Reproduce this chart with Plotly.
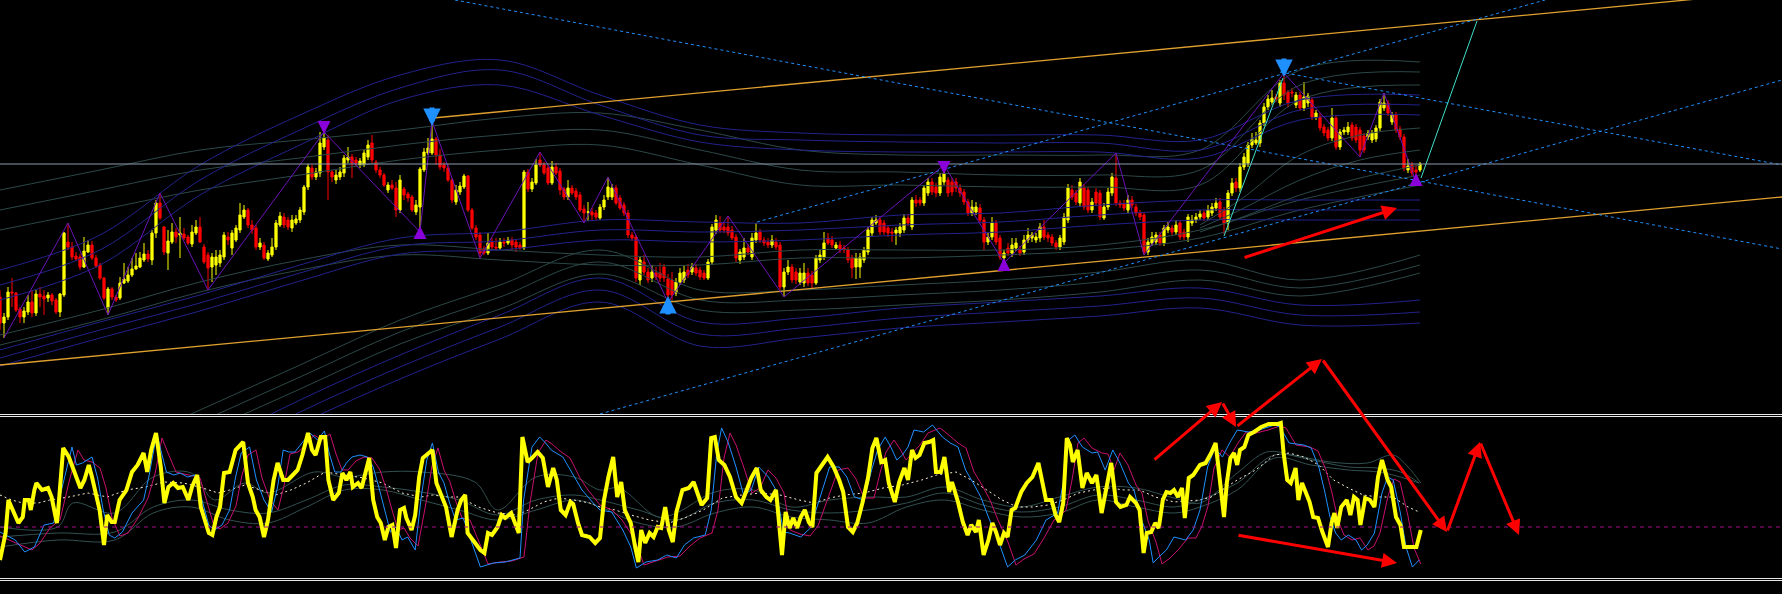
import plotly.graph_objects as go

# ---------------- price candles (price units) ----------------
opens = [203,177,183,208,207,191,183,188,198,187,206,204,202,205,200,188,205,258,253,244,
243,233,248,255,242,235,222,192,211,203,202,217,219,225,231,233,240,246,240,267,
297,273,247,258,268,265,266,263,256,267,273,253,245,233,235,237,243,263,252,260,
270,283,290,275,272,253,255,241,245,253,275,283,280,272,277,280,288,313,332,323,
327,353,360,328,320,323,327,340,343,340,335,335,343,357,338,330,325,310,315,312,
290,311,306,303,288,293,330,347,347,361,345,335,332,320,298,308,313,324,290,272,
265,251,247,258,253,252,258,257,260,258,255,252,328,311,317,340,335,332,317,333,
329,311,303,312,309,305,291,288,288,287,282,293,303,303,312,302,295,287,265,263,
220,238,228,222,227,227,233,221,220,207,218,220,230,228,232,230,227,222,238,270,
277,273,273,270,263,240,243,252,243,260,268,260,258,255,258,255,213,228,233,228,
218,217,227,225,217,240,243,262,260,252,255,252,250,242,233,233,240,248,267,277,
280,277,272,268,267,267,270,282,273,300,300,297,307,318,313,307,318,320,318,318,
312,308,298,287,288,292,280,258,263,277,262,242,252,247,252,250,248,260,262,260,
262,273,265,263,257,253,258,280,310,307,297,312,310,290,308,307,282,293,307,322,
297,296,290,300,293,287,285,248,257,258,265,257,270,272,268,277,268,263,277,280,
283,287,283,287,292,298,290,277,307,318,312,333,337,355,357,357,377,393,398,403,
397,417,408,408,395,405,392,397,400,383,383,373,370,362,382,353,368,368,375,373,
370,364,363,360,361,372,392,397,378,385,371,363,330,335,330,330]
highs = [210,187,213,222,208,193,193,205,210,210,213,210,208,207,202,207,268,277,258,248,
246,263,260,259,245,237,223,213,213,205,223,237,233,242,247,248,257,250,270,300,
307,274,270,277,272,283,272,265,275,280,283,256,248,247,250,250,268,268,270,275,
297,295,292,280,275,262,258,250,262,280,288,287,283,285,285,293,315,336,335,332,
368,368,365,330,330,333,345,353,346,343,342,350,360,365,340,333,327,318,320,318,
325,313,308,305,300,333,352,362,379,363,351,338,335,322,315,318,326,325,292,275,
268,254,267,262,262,262,262,263,263,261,258,330,331,322,341,348,338,335,339,337,
332,313,320,315,312,308,295,298,292,290,296,305,323,316,315,305,298,290,268,265,
243,245,232,235,233,237,236,226,228,222,232,235,236,237,236,233,230,241,276,285,
284,277,284,274,266,251,262,256,267,277,271,263,262,265,262,258,232,240,236,232,
232,237,232,229,245,250,268,267,264,258,259,255,253,245,247,247,253,273,283,285,
283,280,275,272,273,277,286,286,303,305,303,315,322,322,317,327,335,323,322,322,
316,311,301,300,298,296,283,267,283,280,265,250,257,262,262,254,265,272,268,267,
277,280,268,266,260,265,287,316,315,310,322,316,313,302,312,310,297,312,327,347,
300,300,305,304,296,290,288,262,268,268,268,275,278,275,280,280,271,286,285,287,
290,290,295,297,302,302,293,310,322,322,337,347,358,367,368,380,397,405,410,406,
420,427,410,412,408,408,418,407,403,390,387,376,373,392,385,371,373,378,378,376,
373,367,370,370,375,401,407,400,388,388,374,366,341,338,335,338]
lows = [170,162,180,193,188,177,177,185,183,184,193,185,198,195,186,183,203,250,240,239,
230,232,247,240,232,220,200,185,200,198,200,216,217,223,230,232,238,238,235,262,
280,245,230,256,257,242,260,255,253,265,257,236,210,218,225,233,240,255,245,258,
267,281,272,266,250,250,240,239,243,250,273,272,270,268,275,277,285,310,320,320,
323,350,300,318,316,320,323,337,322,334,332,333,340,337,327,322,313,307,310,283,
287,300,298,288,285,268,328,345,345,335,330,328,318,297,295,305,311,288,270,260,
242,245,245,250,249,250,253,255,250,248,250,250,308,308,315,333,325,315,315,325,
305,300,300,305,300,288,277,279,280,280,280,290,300,300,295,290,284,262,259,218,
215,225,217,218,220,218,218,198,200,204,215,217,222,225,224,220,220,220,235,266,
267,267,264,260,238,236,240,245,240,257,257,254,252,252,250,210,203,225,217,216,
215,213,214,212,215,237,240,255,252,250,247,247,237,222,221,222,237,245,264,275,
265,265,263,258,255,263,267,274,270,293,294,294,304,305,303,304,315,303,304,308,
303,295,284,284,285,277,250,255,260,255,240,237,244,243,249,244,245,257,258,257,
258,260,258,254,250,250,255,277,300,295,294,290,287,287,294,280,280,290,304,294,
292,289,287,292,284,280,245,245,254,255,254,254,267,265,265,260,260,258,274,277,
280,279,280,284,289,280,266,270,304,308,308,330,333,352,355,353,374,390,395,398,
393,400,393,403,392,389,389,393,380,380,369,364,359,359,350,350,365,365,359,357,
343,347,360,357,358,369,389,384,375,367,360,329,327,324,318,328]
closes = [177,183,208,207,190,183,189,198,187,206,203,201,205,199,188,206,267,253,243,241,
233,249,255,242,234,222,202,211,203,200,217,221,225,231,234,242,246,241,267,297,
282,248,259,268,263,267,262,257,268,273,258,238,232,243,243,245,265,260,267,272,
285,290,275,270,253,257,242,247,253,277,284,275,273,280,281,290,313,333,323,328,
357,362,328,323,325,328,342,343,337,337,339,347,355,340,330,325,315,315,312,290,
320,305,302,290,295,331,348,352,361,345,333,332,320,300,310,314,324,290,272,263,
247,247,257,253,252,258,257,260,255,253,252,328,311,318,335,335,327,317,333,327,
310,303,312,307,303,290,287,288,285,283,293,300,313,312,297,292,287,265,262,222,
240,228,220,228,223,222,222,205,205,218,227,228,225,233,227,223,222,238,273,280,
270,270,267,262,242,248,252,248,262,267,260,257,255,260,253,213,228,233,220,220,
227,227,217,217,242,245,257,257,255,255,250,250,240,232,242,243,250,270,280,280,
268,268,267,267,270,273,282,277,300,297,297,312,318,308,307,323,327,307,308,312,
307,298,287,293,293,280,258,263,277,258,243,247,247,255,257,247,260,265,265,263,
273,263,262,257,253,262,283,312,303,298,318,293,290,298,297,283,293,308,323,297,
295,292,300,295,287,283,248,258,263,265,257,272,273,268,275,263,263,283,280,283,
286,282,290,293,297,283,277,307,317,312,333,343,355,361,360,377,393,401,402,401,
417,405,397,407,405,392,403,404,383,387,372,367,362,382,353,368,370,373,362,360,
350,350,367,367,372,398,397,387,385,370,363,332,334,327,328,336]

# ---------------- oscillator (0..161 units) ----------------
yel_i = [0,1.4,2.1,3.3,4.6,5.7,6.2,7.2,7.7,8.6,9.1,10.5,12,12.9,14.2,14.5,15.8,17.2,18.2,19.1,
20.1,21.1,22.2,23,24.9,26,26.8,27.9,28.7,29.9,31.6,33,34.4,35.9,36.8,37.8,39,40.2,41.1,42.1,
43.3,44.5,45.7,47.1,48,49.3,50.2,52.2,53.1,54.1,55,56,57.4,58.9,60.8,62,63.2,63.9,64.9,66,
67,68.4,69.4,70.8,72,73.2,74.4,75.6,77,78,78.9,80.2,81.3,82.1,83.3,84.7,85.6,86.6,87.6,88.2,
89.5,90.4,91.4,92.3,93.3,94.3,95.2,96.2,97.1,98.1,99,100,101,101.6,102.9,103.8,104.8,105.7,107.2,108.1,
109.1,110.5,111.5,112.9,114.4,115.3,116.3,116.9,118.7,120.1,121.1,122,123,124.4,125.4,126.3,127.8,128.7,129.7,130.6,
131.9,133,134.4,135.7,137,138.3,139.2,140.2,141.4,142.6,143.3,144.5,145.5,147.4,148.8,150,151,152.1,153.3,154.3,
155.3,156.2,157.7,158.8,159.6,160.3,161.3,162.4,163.4,164.4,165.3,166.3,167.2,168.2,169.1,170.6,172.2,173.4,174.4,175.4,
176.8,177.8,178.7,179.7,181.1,182.5,184,185.4,186.4,187.8,189.2,190.2,191.6,192.6,194,194.8,195.5,196.4,197.4,198.3,
199.3,200.2,201.2,202.2,203.1,204.1,205.5,206.9,208.4,209.8,210.8,212,213.2,214.3,215.6,217,218.1,219.1,220.3,221.3,
222.2,223.7,224.8,226.1,227,228,228.9,229.9,231.1,232.3,233.3,234,235.2,236.1,237.3,238,239.5,240.7,241.9,242.8,
244,244.7,245.9,247.1,248.1,249,250,251,251.9,252.9,253.8,255.3,256.7,258.1,259.6,260.5,261.5,262.9,263.9,264.8,
265.8,266.7,267.5,268.2,269.4,270.6,271.7,273,274.1,275.4,276.5,277.8,279,280.1,281.6,282.5,284,284.9,285.9,286.7,
287.8,288.8,289.7,290.7,291.6,292.6,293.5,294.5,295.5,296.2,297.2,298.3,300,301.4,302.8,303.9,304.6,305.4,306,306.7,
307.6,308.5,309.3,310,311.1,312.1,313.5,315.3,317.2,319.5,320.2,320.9,321.8,322.7,323.9,324.6,325.5,326.4,327.4,328.3,
329.5,330.6,332,332.9,333.6,334.3,335.3,336.7,337.6,338.5,339.4,340.1,341.3,342.5,343.6,344.5,345.5,346.9,347.8,349,
350.1,351,352.4,354.1,355.2]
yel_v = [18,45,78,68,55,61,78,78,68,88,95,88,90,81,55,65,130,121,111,101,
90,98,113,101,68,33,63,56,56,78,88,106,113,125,106,128,145,111,75,91,
95,90,91,78,91,103,71,45,43,61,71,105,106,128,136,95,81,68,61,41,
58,98,115,98,98,103,108,123,145,128,123,141,141,98,78,85,105,98,106,91,
95,90,108,120,78,61,55,38,51,53,30,68,70,60,48,63,101,120,125,128,
95,81,71,41,68,78,83,45,35,28,25,45,43,51,63,60,65,56,45,141,
116,120,126,120,91,110,98,68,63,76,74,55,43,41,35,40,78,101,121,81,
96,68,55,31,16,48,35,45,41,51,50,71,48,36,66,88,90,96,85,73,
80,140,141,118,113,101,81,75,85,100,110,88,81,78,88,51,23,66,50,60,
50,61,68,56,51,105,113,121,111,98,86,51,46,55,75,100,130,140,116,118,
95,76,96,110,98,128,120,123,135,136,138,106,106,121,86,96,76,56,43,53,
46,58,23,38,55,46,33,45,41,68,70,86,95,101,115,96,78,78,63,56,
75,140,133,116,128,90,105,95,103,65,90,115,76,71,73,81,75,68,25,45,
46,55,50,78,86,85,88,81,90,60,100,103,113,115,125,135,111,85,61,95,
120,125,113,128,131,143,146,151,154,154,155,125,98,95,110,78,95,86,76,61,
60,46,31,55,65,50,71,78,63,81,78,53,80,78,71,101,118,98,91,61,
53,31,31,31,48]

blue_i = [0,3.8,6.2,8.6,11,13.4,15.8,18,19.1,20.6,23,24.4,25.8,27.3,28.7,30.6,33,35.9,37.3,39.2,
40.2,41.6,43.5,45,46.9,48.8,50.7,52.2,53.6,55.5,57.4,58.9,60.3,62.4,64.1,66,67.9,69.4,70.8,72.2,
73.7,75.6,77.5,79.4,81.1,82.3,83.7,85.2,86.6,88,90,91.9,93.3,94.7,96.2,97.6,99,100.5,101.9,103.8,
105.3,106.7,108.1,109.6,111,112.4,113.9,115.8,117.7,120.1,123.4,126.3,130,130.9,133,134.9,136.4,137.8,140.7,143.5,
145.5,148.3,150,152.9,155.7,157.7,159.1,161.5,164.4,166.7,169.1,171.1,173.4,176.3,177.8,179.2,180.4,182.1,184,185.9,
187.8,189.7,192.1,194,195.9,197.4,200.2,202.6,205,207.4,209.8,211.7,213.6,216,217.9,219.4,221.3,222.7,224.2,225.6,
227,228.5,230.9,233.1,235.6,237.6,239.5,241.4,243.3,245.2,247.1,249.5,251.9,253.8,256.2,259.1,261.5,262.9,264.4,265.8,
267.2,268.7,270.6,273,274.4,276.3,278.2,280,282.1,283.5,285.4,287.3,288.3,289.7,291.6,293.5,296.4,298.3,300,301.9,
303.7,305.6,307.4,309.3,312.1,314.8,318.6,320,322.3,326,327.8,329.7,331.1,332.5,333.9,335.3,337.1,339,340.4,341.8,
343.6,345.5,346.9,348.3,350.1,351.5,353.1,354.8]
blue_v = [46,38,26,31,53,55,95,131,113,115,121,100,68,43,40,46,65,78,103,145,
128,106,103,105,101,103,75,53,48,53,68,101,125,131,98,78,66,91,128,126,
126,135,145,138,147,125,106,106,115,121,123,121,111,91,68,46,51,38,41,28,
81,118,135,106,95,75,58,60,38,11,15,16,20,78,131,141,135,128,121,101,
88,75,68,66,48,31,10,16,18,23,20,33,40,43,68,125,150,135,111,83,
88,111,101,88,46,45,41,50,81,111,111,101,81,78,108,128,141,131,118,123,
131,148,146,153,141,135,131,108,95,81,61,38,11,18,23,38,58,61,65,95,
138,143,131,125,126,108,128,115,95,88,58,38,15,21,28,41,38,48,68,111,
130,121,135,148,146,148,153,151,135,133,130,111,88,61,45,38,43,38,28,33,
45,85,101,98,65,31,11,18]

mag_i = [0,5,8,10,12.5,15,17.5,19.5,21,23,25,26.5,28,30,32,34.5,37,38.8,40.5,42,
44,46,48.5,50,52,53.5,55,57,59,60.5,62,64,65.5,67.5,69.5,71,72.5,74.5,76.5,78.5,
80.5,82.5,84,85.5,87,89,91,93,95,96.5,98,99.5,101,102.5,104.5,106.5,108,109.5,111,112.5,
114,115.5,117.5,119.5,122,125,128,131,132.5,134.5,136.5,138,140,142.5,145,147,150,153,155.5,157.5,
159.5,161,164,167,170,172.5,175,178,179.5,181,182.5,184,186,188,190,192,194,196,197.5,200,
202.5,204.5,207,209.5,212,214,216,218.5,220,221.5,223.5,225,226.5,228,230,232,235,237.5,239.5,241.5,
243.5,245.5,247.5,249.5,252,254,256,258.5,261,263.5,265,266.5,268,269.5,271,273,275.5,277,278.5,280,
282,284,285.5,287,289,290.5,292.5,294.5,297,299,300.5,302,303.5,305.5,307.5,309.5,311.5,314,317,320,
321.5,324,327.5,329.5,331.5,333,334.5,336,338,340,342,343.5,345,347,348.5,350,352,353.5,355.2]
mag_v = [42,33,28,35,50,58,100,128,118,116,110,90,60,42,45,60,80,105,140,125,
106,104,102,100,72,52,49,55,72,103,123,128,100,78,68,92,124,126,133,143,
138,144,124,108,108,117,121,120,108,90,68,48,50,40,32,75,112,130,108,96,
76,60,58,38,14,16,17,21,75,125,138,134,127,120,100,88,73,68,58,46,
30,13,17,21,22,32,40,45,68,120,145,133,110,85,90,108,100,85,48,44,
42,52,80,108,110,99,80,80,105,126,138,129,118,124,133,145,150,142,135,130,
106,93,78,58,36,13,19,24,40,58,62,68,98,135,140,130,125,124,108,125,
113,93,85,57,36,14,20,28,40,40,52,72,110,128,121,135,146,145,148,152,
150,133,131,127,108,85,58,43,38,40,28,32,45,82,99,96,62,30,14]

mid_i = [0,2.9,5.7,9.6,12.4,17.2,22,26.8,31.6,36.4,41.1,45.9,50.7,54.5,57.4,61.2,65.1,68.9,72.7,76.6,
81.3,86.1,90.9,95.7,100.5,105.3,108.1,112,114.8,119.6,124.4,129.2,132.1,135.9,139.7,143.5,147.4,150,153.8,157.7,
162.4,167.2,171.1,175.8,180.6,185.4,190.2,195,199.8,203.6,207.4,211.2,216,220.8,225.6,230.4,234.2,239,242.8,246.7,
250.5,254.3,258.1,262,265.8,269.6,273.4,277.3,281.1,284.9,288.8,293.5,300,302.8,305.6,309.3,313.9,318.6,322.3,326,
329.7,333.4,337.1,340.8,344.5,348.3,352,354.8]
mid_v = [83,78,75,75,78,81,85,81,88,91,96,95,90,85,88,93,88,83,88,95,
106,103,100,95,85,81,83,81,81,71,65,63,68,76,80,78,75,71,68,63,
58,55,60,68,80,83,85,83,78,75,80,83,85,90,93,98,103,106,98,88,
78,71,71,73,78,85,88,90,88,88,81,76,78,81,88,98,108,123,125,121,
113,98,90,83,81,81,71,66]

og_i = [0,14.4,18.2,28.7,38.3,47.8,53.6,61.2,67,78.5,86.1,95.7,105.3,118.7,124.4,134,143.5,150,154.8,164.4,
169.1,178.7,188.3,197.8,207.4,217,226.6,236.1,245.7,255.3,264.8,274.4,284,293.5,300,309.3,316.7,323.2,332.5,341.8,
348.3,352,355.2]
og1_v = [51,51,75,65,101,105,78,95,85,106,101,106,106,96,68,101,101,88,90,61,
65,86,88,71,78,81,81,91,78,71,81,91,90,80,75,105,126,123,116,115,
123,111,95]
og2_i = [0,14.4,28.7,38.3,47.8,57.4,67,76.6,86.1,95.7,105.3,114.8,124.4,134,143.5,150,159.6,169.1,178.7,188.3,
197.8,207.4,217,226.6,236.1,245.7,255.3,264.8,274.4,284,293.5,300,309.3,318.6,327.8,337.1,344.5,350.1,354.8]
og2_v = [31,38,38,65,71,58,55,71,88,88,78,68,58,68,78,71,55,51,65,71,
61,58,55,71,78,68,61,65,78,71,65,71,88,120,113,108,106,101,95]
og3_v = [41,45,46,71,78,68,65,78,93,91,86,78,63,78,83,78,68,58,75,78,
68,65,68,75,85,73,66,71,83,78,71,78,95,123,118,111,110,106,95]

osc_level = 51

# ---------------- top panel overlays ----------------
band_i = [0,25,50,75,100,125,150,175,200,225,250,275,300,325,355]
band_gray_up = [
    [310,330,350,360,370,382,387,370,350,345,345,345,350,430,438],
    [290,310,330,342,355,365,370,350,330,328,325,325,330,415,428],
    [270,290,310,325,340,350,355,335,315,315,313,313,315,400,415],
]
band_blue_up = [
    [230,265,335,385,425,440,405,375,367,365,365,365,360,400,405],
    [215,250,320,370,412,430,395,365,360,358,357,357,350,390,395],
    [200,235,305,355,400,415,385,358,350,348,348,348,342,380,385],
]
band_gray_dn = [
    [0,45,90,135,180,215,250,210,210,215,220,228,240,220,245],
    [-12,33,78,123,168,203,238,200,200,205,210,218,230,212,235],
    [-24,21,66,111,156,191,226,190,190,195,200,208,220,204,227],
]
band_blue_dn = [
    [-40,0,50,100,145,185,222,178,182,192,198,204,212,195,200],
    [-52,-12,38,88,133,173,210,166,172,182,188,194,202,185,188],
    [-64,-24,26,76,121,161,198,154,162,172,178,184,192,175,177],
]
mid_band_i = [0,25,50,75,100,125,150,175,200,225,250,275,300,325,355]
mid_blue = [
    [150,178,205,235,262,268,280,278,277,285,287,295,300,300,300],
    [142,170,197,227,254,259,270,268,270,275,278,285,290,290,290],
    [134,162,189,219,246,250,260,258,260,265,268,275,280,280,280],
]
mid_gray = [
    [165,190,218,240,255,250,245,243,250,250,250,255,270,300,325],
    [155,180,208,230,245,240,235,235,242,242,245,250,262,290,315],
]
fan_i = [300,310,325,340,355]
fan_gray = [
    [272,290,320,340,350],
    [268,282,305,322,335],
    [275,300,345,365,372],
]

level_price = 336
orange_lines = [((108.25,382),(445.5,509)), ((0,135),(445.5,303))]
dotted_lines = [((113.75,500),(445.5,251)), ((150,86),(445.5,420)),
                ((189.25,278),(386.25,500)), ((320,428),(445.5,335))]
cyan_lines = [((306,264),(320.75,422)), ((355.25,322),(369.25,479))]
zz_i = [1,17,27,40,52,81,105,108,120,135,146,152,167,182,196,236,251,279,286,321,340,346,354]
zz_p = [162,277,185,307,210,368,268,379,242,348,277,323,198,284,203,335,237,347,245,427,343,407,318]
# signal arrows: candle index, price of the arrow tip
blue_dn_i, blue_dn_p = [108,321], [374,423]
blue_up_i, blue_up_p = [167], [204]
pur_dn_i, pur_dn_p = [81,236], [366,326]
pur_up_i, pur_up_p = [105,251,354], [274,242,327]

# hand-drawn red arrows: (tail, head) ; oscillator units on the full-height axis
red_osc = [((288.25,117),(305.5,176)), ((305.5,176),(309,151)), ((309,151),(330.5,219)),
           ((330.5,219),(361.75,46)), ((361.75,46),(370,136)), ((370,136),(379.75,43)),
           ((309.25,43),(349.25,15))]
red_top = [((310.75,242),(349.25,292))]

# ---------------- figure ----------------
fig = go.Figure()
GRAY = 'rgb(44,72,72)'
NAVY = 'rgb(34,34,140)'

def add_lines(xs, rows, color):
    for r in rows:
        fig.add_trace(go.Scatter(x=xs, y=r, mode='lines', line=dict(color=color, width=1, shape='spline')))

add_lines(band_i, band_gray_up + band_gray_dn, GRAY)
add_lines(band_i, band_blue_up + band_blue_dn, NAVY)
add_lines(mid_band_i, mid_gray, GRAY)
add_lines(mid_band_i, mid_blue, NAVY)
add_lines(fan_i, fan_gray, GRAY)

for (a, b) in orange_lines:
    fig.add_trace(go.Scatter(x=[a[0], b[0]], y=[a[1], b[1]], mode='lines', line=dict(color='#E0A030', width=1.3)))
for (a, b) in dotted_lines:
    fig.add_trace(go.Scatter(x=[a[0], b[0]], y=[a[1], b[1]], mode='lines', line=dict(color='#1E90FF', width=1, dash='3px,3px')))
for (a, b) in cyan_lines:
    fig.add_trace(go.Scatter(x=[a[0], b[0]], y=[a[1], b[1]], mode='lines', line=dict(color='#40E0C8', width=1)))
fig.add_trace(go.Scatter(x=zz_i, y=zz_p, mode='lines', line=dict(color='#6A12B8', width=1)))

fig.add_trace(go.Candlestick(x=list(range(len(opens))), open=opens, high=highs, low=lows, close=closes,
                             increasing=dict(line=dict(color='#FFFF00', width=1), fillcolor='#FFFF00'),
                             decreasing=dict(line=dict(color='#FF0000', width=1), fillcolor='#FF0000'),
                             whiskerwidth=0))

# oscillator panel
for vals, xs in [(og1_v, og_i), (og2_v, og2_i), (og3_v, og2_i)]:
    fig.add_trace(go.Scatter(x=xs, y=vals, mode='lines', line=dict(color='rgb(50,80,80)', width=1, shape='spline'),
                             xaxis='x2', yaxis='y2'))
fig.add_trace(go.Scatter(x=mid_i, y=mid_v, mode='lines', line=dict(color='#FFF0D8', width=1, dash='2px,3px'),
                         xaxis='x2', yaxis='y2'))
fig.add_trace(go.Scatter(x=mag_i, y=mag_v, mode='lines', line=dict(color='#C8106E', width=1),
                         xaxis='x2', yaxis='y2'))
fig.add_trace(go.Scatter(x=blue_i, y=blue_v, mode='lines', line=dict(color='#1E90FF', width=1),
                         xaxis='x2', yaxis='y2'))
fig.add_trace(go.Scatter(x=yel_i, y=yel_v, mode='lines', line=dict(color='#FFFF00', width=4),
                         xaxis='x2', yaxis='y2'))

XR = [0, 445.5]
fig.update_layout(
    width=1782, height=594, margin=dict(l=0, r=0, t=0, b=0, pad=0),
    paper_bgcolor='black', plot_bgcolor='rgba(0,0,0,0)', showlegend=False, hovermode=False,
    boxgap=0.45, boxgroupgap=0,
    xaxis=dict(range=XR, visible=False, rangeslider=dict(visible=False), domain=[0, 1], anchor='y'),
    yaxis=dict(range=[86, 500], visible=False, domain=[1 - 414 / 594, 1], anchor='x'),
    xaxis2=dict(range=XR, visible=False, domain=[0, 1], anchor='y2'),
    yaxis2=dict(range=[0, 161], visible=False, domain=[16 / 594, 177 / 594], anchor='x2'),
    xaxis3=dict(range=XR, visible=False, domain=[0, 1], anchor='y3'),
    yaxis3=dict(range=[-16, 578], visible=False, domain=[0, 1], anchor='x3'),
)

shapes = [
    dict(type='line', xref='paper', yref='y', x0=0, x1=1, y0=level_price, y1=level_price,
         line=dict(color='#8C9CB0', width=1)),
    dict(type='line', xref='x2', yref='y2', x0=XR[0], x1=XR[1], y0=osc_level, y1=osc_level,
         line=dict(color='#A0108C', width=1, dash='4px,4px')),
]
for yy in [414.5, 416.5, 578.5, 580.5]:
    shapes.append(dict(type='line', xref='paper', yref='paper', x0=0, x1=1,
                       y0=1 - yy / 594, y1=1 - yy / 594, line=dict(color='#E8E8E8', width=1)))
fig.update_layout(shapes=shapes)

ann = []
def sig(xs, ps, color, down, w, s, L):
    for xi, p in zip(xs, ps):
        ann.append(dict(x=xi, y=p, xref='x', yref='y', ax=0, ay=(-L if down else L), text='',
                        showarrow=True, arrowhead=2, arrowsize=s, arrowwidth=w, arrowcolor=color,
                        standoff=0, startstandoff=0))
sig(blue_dn_i, blue_dn_p, '#1E90FF', True, 5, 0.7, 20)
sig(blue_up_i, blue_up_p, '#1E90FF', False, 5, 0.7, 20)
sig(pur_dn_i, pur_dn_p, '#8A00D8', True, 4, 0.65, 14)
sig(pur_up_i, pur_up_p, '#8A00D8', False, 4, 0.65, 14)

for (t, h) in red_osc:
    ann.append(dict(x=h[0], y=h[1], ax=t[0], ay=t[1], xref='x3', yref='y3', axref='x3', ayref='y3',
                    text='', showarrow=True, arrowhead=2, arrowsize=1, arrowwidth=3, arrowcolor='#FF0000',
                    standoff=0, startstandoff=0))
for (t, h) in red_top:
    ann.append(dict(x=h[0], y=h[1], ax=t[0], ay=t[1], xref='x', yref='y', axref='x', ayref='y',
                    text='', showarrow=True, arrowhead=2, arrowsize=1, arrowwidth=3, arrowcolor='#FF0000',
                    standoff=0, startstandoff=0))
fig.update_layout(annotations=ann)

fig.write_html('out.html', config={'displayModeBar': False, 'staticPlot': True},
               post_script="document.body.style.margin='0px';document.body.style.background='black';")
